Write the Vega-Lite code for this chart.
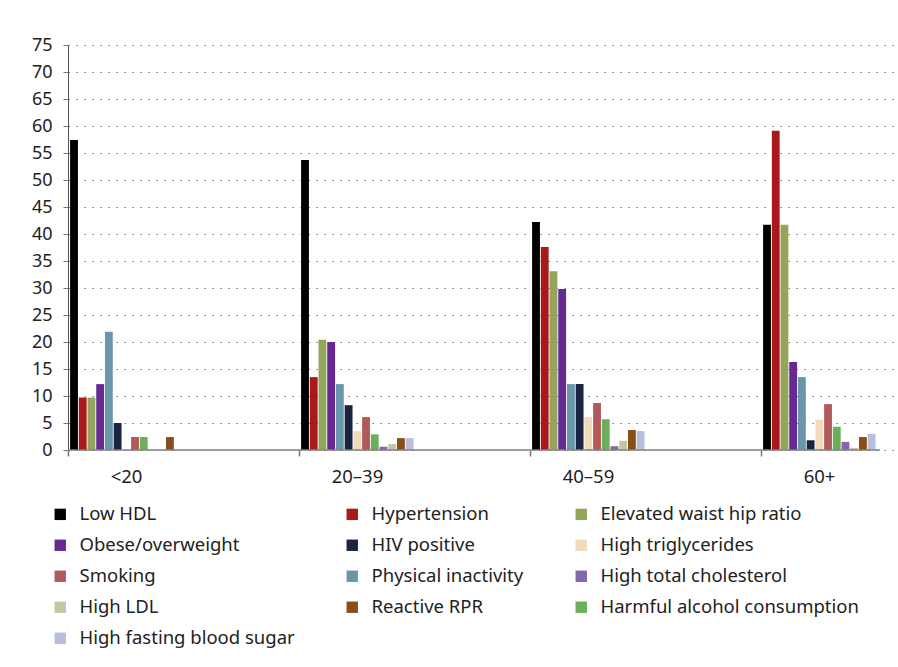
{
  "$schema": "https://vega.github.io/schema/vega-lite/v6.json",
  "width": 812,
  "height": 405,
  "autosize": {"type": "none"},
  "padding": {"left": 68, "top": 45, "right": 18, "bottom": 217},
  "background": "white",
  "config": {
    "font": "Noto Sans",
    "view": {"stroke": null}
  },
  "data": {
    "values": [
      {"age": "<20", "factor": "Low HDL", "value": 57.4},
      {"age": "<20", "factor": "Hypertension", "value": 9.7},
      {"age": "<20", "factor": "Elevated waist hip ratio", "value": 9.7},
      {"age": "<20", "factor": "Obese/overweight", "value": 12.2},
      {"age": "<20", "factor": "Physical inactivity", "value": 21.9},
      {"age": "<20", "factor": "HIV positive", "value": 5.0},
      {"age": "<20", "factor": "High triglycerides", "value": 0},
      {"age": "<20", "factor": "Smoking", "value": 2.4},
      {"age": "<20", "factor": "Harmful alcohol consumption", "value": 2.4},
      {"age": "<20", "factor": "High total cholesterol", "value": 0},
      {"age": "<20", "factor": "High LDL", "value": 0},
      {"age": "<20", "factor": "Reactive RPR", "value": 2.4},
      {"age": "<20", "factor": "High fasting blood sugar", "value": 0},
      {"age": "20–39", "factor": "Low HDL", "value": 53.7},
      {"age": "20–39", "factor": "Hypertension", "value": 13.5},
      {"age": "20–39", "factor": "Elevated waist hip ratio", "value": 20.4},
      {"age": "20–39", "factor": "Obese/overweight", "value": 20.0},
      {"age": "20–39", "factor": "Physical inactivity", "value": 12.2},
      {"age": "20–39", "factor": "HIV positive", "value": 8.3},
      {"age": "20–39", "factor": "High triglycerides", "value": 3.5},
      {"age": "20–39", "factor": "Smoking", "value": 6.1},
      {"age": "20–39", "factor": "Harmful alcohol consumption", "value": 2.9},
      {"age": "20–39", "factor": "High total cholesterol", "value": 0.6},
      {"age": "20–39", "factor": "High LDL", "value": 1.1},
      {"age": "20–39", "factor": "Reactive RPR", "value": 2.2},
      {"age": "20–39", "factor": "High fasting blood sugar", "value": 2.2},
      {"age": "40–59", "factor": "Low HDL", "value": 42.2},
      {"age": "40–59", "factor": "Hypertension", "value": 37.6},
      {"age": "40–59", "factor": "Elevated waist hip ratio", "value": 33.1},
      {"age": "40–59", "factor": "Obese/overweight", "value": 29.8},
      {"age": "40–59", "factor": "Physical inactivity", "value": 12.2},
      {"age": "40–59", "factor": "HIV positive", "value": 12.2},
      {"age": "40–59", "factor": "High triglycerides", "value": 6.1},
      {"age": "40–59", "factor": "Smoking", "value": 8.7},
      {"age": "40–59", "factor": "Harmful alcohol consumption", "value": 5.7},
      {"age": "40–59", "factor": "High total cholesterol", "value": 0.7},
      {"age": "40–59", "factor": "High LDL", "value": 1.7},
      {"age": "40–59", "factor": "Reactive RPR", "value": 3.7},
      {"age": "40–59", "factor": "High fasting blood sugar", "value": 3.5},
      {"age": "60+", "factor": "Low HDL", "value": 41.7},
      {"age": "60+", "factor": "Hypertension", "value": 59.1},
      {"age": "60+", "factor": "Elevated waist hip ratio", "value": 41.7},
      {"age": "60+", "factor": "Obese/overweight", "value": 16.3},
      {"age": "60+", "factor": "Physical inactivity", "value": 13.5},
      {"age": "60+", "factor": "HIV positive", "value": 1.8},
      {"age": "60+", "factor": "High triglycerides", "value": 5.6},
      {"age": "60+", "factor": "Smoking", "value": 8.5},
      {"age": "60+", "factor": "Harmful alcohol consumption", "value": 4.3},
      {"age": "60+", "factor": "High total cholesterol", "value": 1.5},
      {"age": "60+", "factor": "High LDL", "value": 0.4},
      {"age": "60+", "factor": "Reactive RPR", "value": 2.4},
      {"age": "60+", "factor": "High fasting blood sugar", "value": 3.0}
    ]
  },
  "layer": [
    {
      "mark": {"type": "bar"},
      "encoding": {
        "x": {
          "field": "age",
          "type": "nominal",
          "sort": ["<20", "20–39", "40–59", "60+"],
          "scale": {"range": [0, 924], "paddingInner": 0, "paddingOuter": 0},
          "axis": {
            "title": null,
            "bandPosition": 0,
            "labelOffset": -57,
            "labelAngle": 0,
            "domain": false,
            "tickSize": 6,
            "tickColor": "#777777",
            "tickWidth": 1.5,
            "labelFontSize": 18.5,
            "labelColor": "#222222",
            "labelPadding": 11
          }
        },
        "xOffset": {
          "field": "factor",
          "type": "nominal",
          "scale": {
            "domain": ["Low HDL", "Hypertension", "Elevated waist hip ratio", "Obese/overweight", "Physical inactivity", "HIV positive", "High triglycerides", "Smoking", "Harmful alcohol consumption", "High total cholesterol", "High LDL", "Reactive RPR", "High fasting blood sugar", "pad1", "pad2", "pad3", "pad4", "pad5", "pad6", "pad7", "pad8", "pad9", "pad10", "pad11", "pad12", "pad13"],
            "paddingInner": 0.1,
            "paddingOuter": 0.3,
            "align": 0.4
          }
        },
        "y": {
          "field": "value",
          "type": "quantitative",
          "scale": {"domain": [0, 75], "nice": false},
          "axis": {
            "title": null,
            "values": [0, 5, 10, 15, 20, 25, 30, 35, 40, 45, 50, 55, 60, 65, 70, 75],
            "labelOverlap": false,
            "grid": true,
            "gridDash": [1.5, 6.5],
            "gridColor": "#777777",
            "gridWidth": 1.2,
            "gridOpacity": 1,
            "domainColor": "#555555",
            "domainWidth": 1,
            "tickColor": "#777777",
            "tickSize": 5,
            "labelFontSize": 18,
            "labelColor": "#222222",
            "labelPadding": 11
          }
        },
        "color": {
          "field": "factor",
          "type": "nominal",
          "scale": {
            "domain": ["Low HDL", "Hypertension", "Elevated waist hip ratio", "Obese/overweight", "HIV positive", "High triglycerides", "Smoking", "Physical inactivity", "High total cholesterol", "High LDL", "Reactive RPR", "Harmful alcohol consumption", "High fasting blood sugar"],
            "range": ["#000000", "#a8191c", "#93a55a", "#642a91", "#1a2340", "#f2dbbd", "#b05b5a", "#6a96ad", "#8566aa", "#c9c5a3", "#8a4f17", "#6ab05c", "#b8bedc"]
          },
          "legend": {
            "title": null,
            "orient": "none",
            "legendX": -17,
            "legendY": 460,
            "direction": "horizontal",
            "columns": 3,
            "columnPadding": 48,
            "rowPadding": 12,
            "padding": 0,
            "symbolType": "square",
            "symbolSize": 130,
            "symbolStrokeWidth": 0,
            "labelFontSize": 18.5,
            "labelColor": "#222222",
            "labelOffset": 10,
            "labelLimit": 400
          }
        }
      }
    },
    {
      "data": {"values": [{}]},
      "mark": {"type": "rule", "color": "#808080", "strokeWidth": 1.5},
      "encoding": {
        "y": {
          "datum": 0,
          "type": "quantitative",
          "axis": {
            "title": null,
            "values": [0, 5, 10, 15, 20, 25, 30, 35, 40, 45, 50, 55, 60, 65, 70, 75],
            "labelOverlap": false,
            "grid": true,
            "gridDash": [1.5, 6.5],
            "gridColor": "#777777",
            "gridWidth": 1.2,
            "gridOpacity": 1,
            "domainColor": "#555555",
            "domainWidth": 1,
            "tickColor": "#777777",
            "tickSize": 5,
            "labelFontSize": 18,
            "labelColor": "#222222",
            "labelPadding": 11
          }
        }
      }
    }
  ]
}
